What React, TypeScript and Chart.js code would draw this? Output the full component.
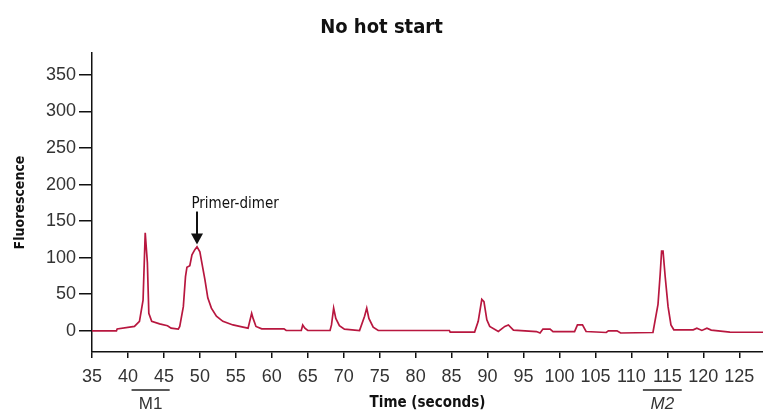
import { useEffect, useRef } from 'react';
import { Chart, registerables } from 'chart.js';

Chart.register(...registerables);

const chartTitle = 'No hot start';
const xAxisTitle = 'Time (seconds)';
const yAxisTitle = 'Fluorescence';

const timeSeconds = [
  35, 38.4, 38.5, 40.9, 41.6, 42.1, 42.4, 42.7, 42.9, 43.3, 44.4, 45.5, 46, 47,
  47.2, 47.7, 48, 48.2, 48.6, 48.9, 49.3, 49.6, 50, 50.2, 50.7, 51.1, 51.6, 52.3,
  53.2, 54.6, 56, 56.7, 57.2, 57.4, 57.8, 58.6, 61.7, 62, 64.1, 64.3, 64.6, 65,
  68.1, 68.3, 68.6, 68.9, 69.4, 70.1, 72.2, 72.9, 73.2, 73.5, 74.1, 74.8, 84.7,
  84.8, 88.2, 88.7, 89.2, 89.5, 89.9, 90.3, 91.5, 92.4, 92.9, 93.6, 96.8, 97.3,
  97.7, 98.7, 99.1, 102.1, 102.5, 103.2, 103.7, 106.5, 106.8, 108, 108.5, 113,
  113.7, 114, 114.2, 114.4, 114.7, 115.1, 115.5, 115.9, 118.6, 119.1, 119.8,
  120.5, 121.1, 123.7, 128.3,
];

const fluorescence = [
  0, 0, 2.5, 6, 13, 42, 134, 93, 24, 13, 9.5, 7, 3.6, 2.3,
  6, 33, 74, 87, 89, 104, 111, 115, 108, 97, 70, 45, 31, 20,
  13, 8, 5, 3.6, 24, 17, 6, 2.7, 2.7, 0.4, 0.4, 8, 3.6, 0.4,
  0.4, 8, 31, 17, 7, 2.3, 0.4, 20, 31, 17, 5, 0.4, 0.4,
  -1.8, -1.8, 13, 43, 40, 15, 6, -1, 6, 8, 1, -1, -3,
  2.3, 2.3, -1, -1, 8, 8, -1, -2.3, 0, 0, -3, -2.3,
  36, 77, 109, 109, 74, 33, 8, 1.4, 1.4, 3.6, 0.5,
  3.6, 1, -1.8, -2,
];

const xTickValues = [35, 40, 45, 50, 55, 60, 65, 70, 75, 80, 85, 90, 95, 100, 105, 110, 115, 120, 125];
const yTickValues = [0, 50, 100, 150, 200, 250, 300, 350];

const primerDimer = { label: 'Primer-dimer', x: 49.6, y: 118 };
const markers = [
  { label: 'M1', from: 40.5, to: 45.8, italic: false },
  { label: 'M2', from: 111.6, to: 117, italic: true },
];

const NARROW = '"DejaVu Sans Condensed", "Liberation Sans Narrow", "Liberation Sans", sans-serif';
const SANS = '"Liberation Sans", Arial, sans-serif';

const annotationPlugin = {
  id: 'annotations',
  afterDraw(chart: any) {
    const { ctx } = chart;
    const xs = chart.scales.x;
    const ys = chart.scales.y;
    ctx.save();
    // Primer-dimer arrow
    const px = xs.getPixelForValue(primerDimer.x);
    const py = ys.getPixelForValue(primerDimer.y);
    ctx.strokeStyle = '#111';
    ctx.fillStyle = '#111';
    ctx.lineWidth = 2;
    ctx.beginPath();
    ctx.moveTo(px, py - 33);
    ctx.lineTo(px, py - 8);
    ctx.stroke();
    ctx.beginPath();
    ctx.moveTo(px - 6, py - 11);
    ctx.lineTo(px + 6, py - 11);
    ctx.lineTo(px, py);
    ctx.closePath();
    ctx.fill();
    ctx.font = '15px ' + NARROW;
    ctx.textAlign = 'left';
    ctx.textBaseline = 'middle';
    ctx.fillText(primerDimer.label, px - 5.6, py - 40);
    // Markers M1 / M2
    markers.forEach((m) => {
      const a = xs.getPixelForValue(m.from);
      const b = xs.getPixelForValue(m.to);
      ctx.strokeStyle = '#222';
      ctx.lineWidth = 1.6;
      ctx.beginPath();
      ctx.moveTo(a, 390);
      ctx.lineTo(b, 390);
      ctx.stroke();
      ctx.fillStyle = '#333';
      ctx.font = (m.italic ? 'italic ' : '') + '17px ' + SANS;
      ctx.textAlign = 'center';
      ctx.textBaseline = 'middle';
      ctx.fillText(m.label, (a + b) / 2, 404);
    });
    ctx.restore();
  },
};

export default function App() {
  const canvasRef = useRef<HTMLCanvasElement | null>(null);

  useEffect(() => {
    document.body.style.margin = '0';
    const canvas = canvasRef.current;
    if (!canvas) return;
    const points = timeSeconds.map((t, i) => ({ x: t, y: fluorescence[i] }));
    const chart = new Chart(canvas, {
      type: 'line',
      data: {
        datasets: [
          {
            label: yAxisTitle,
            data: points,
            borderColor: '#b8173f',
            borderWidth: 1.7,
            pointRadius: 0,
            tension: 0,
            fill: false,
          },
        ],
      },
      options: {
        animation: false,
        responsive: true,
        maintainAspectRatio: false,
        layout: { padding: 0 },
        plugins: {
          legend: { display: false },
          tooltip: { enabled: false },
          title: {
            display: true,
            text: chartTitle,
            color: '#111',
            font: { size: 20, weight: 'bold', family: NARROW },
            padding: { top: 16, bottom: 13 },
          },
        },
        scales: {
          x: {
            type: 'linear',
            min: 35,
            max: 128.3,
            afterBuildTicks: (scale: any) => {
              scale.ticks = xTickValues.map((v) => ({ value: v }));
            },
            afterFit: (scale: any) => {
              scale.height = 60;
            },
            ticks: {
              autoSkip: false,
              maxRotation: 0,
              minRotation: 0,
              padding: 8,
              color: '#333',
              font: { size: 18, family: SANS },
            },
            grid: {
              display: true,
              drawOnChartArea: false,
              drawTicks: true,
              tickLength: 6,
              color: '#111',
              lineWidth: 1.5,
            },
            border: { display: true, color: '#111', width: 1.5 },
            title: {
              display: true,
              text: xAxisTitle,
              color: '#111',
              font: { size: 15, weight: 'bold', family: NARROW },
              padding: { top: 0, bottom: 0 },
            },
          },
          y: {
            type: 'linear',
            min: -29,
            max: 380,
            afterBuildTicks: (scale: any) => {
              scale.ticks = yTickValues.map((v) => ({ value: v }));
            },
            afterFit: (scale: any) => {
              scale.width = 92;
            },
            ticks: {
              padding: 3,
              color: '#333',
              font: { size: 18, family: SANS },
            },
            grid: {
              display: true,
              drawOnChartArea: false,
              drawTicks: true,
              tickLength: 13,
              color: '#111',
              lineWidth: 1.5,
            },
            border: { display: true, color: '#111', width: 1.5 },
            title: {
              display: true,
              text: yAxisTitle,
              color: '#111',
              font: { size: 14, weight: 'bold', family: NARROW },
              padding: { top: 11.5, bottom: 0 },
            },
          },
        },
      },
      plugins: [annotationPlugin],
    });
    return () => {
      chart.destroy();
    };
  }, []);

  return (
    <div style={{ position: 'relative', width: '763px', height: '412px' }}>
      <canvas ref={canvasRef} />
    </div>
  );
}
